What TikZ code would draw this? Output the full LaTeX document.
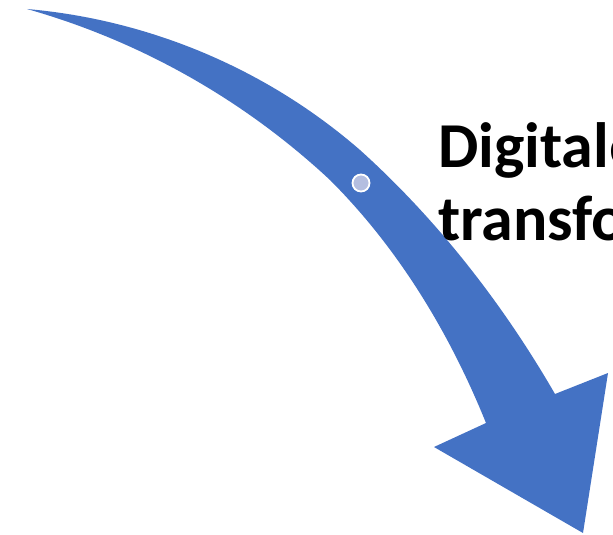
\documentclass[tikz,border=0pt]{standalone}
\usepackage{fontspec}
\setmainfont{Carlito}
\definecolor{arrowblue}{HTML}{4472C4}
\definecolor{dotfill}{HTML}{B4BEE0}
\begin{document}
\begin{tikzpicture}[x=1pt,y=-1pt,
  arrowshape/.style={fill=arrowblue, draw=none},
  bigtext/.style={font=\fontsize{64}{77}\selectfont\bfseries, inner sep=0pt, anchor=base west},
  handle/.style={circle, fill=dotfill, draw=white, line width=1.8pt, minimum size=17pt, inner sep=0pt}]
\useasboundingbox (0,0) rectangle (613,535);
\path[arrowshape] (27,9) .. controls (149.5,19.7) and (266.8,69) .. (360,150)
  .. controls (437.3,219.6) and (503,304) .. (555,394)
  -- (608,373) -- (583,533) -- (434,447) -- (486,423)
  .. controls (449.7,333.1) and (398.6,248.6) .. (330,180)
  .. controls (244,99.8) and (140.2,41) .. (27,9) -- cycle;
\node[handle] (h) at (361,183) {};
\node[bigtext] (t1) at (438,167) {Digitale};
\node[bigtext] (t2) at (438,240) {transfo};
\end{tikzpicture}
\end{document}
